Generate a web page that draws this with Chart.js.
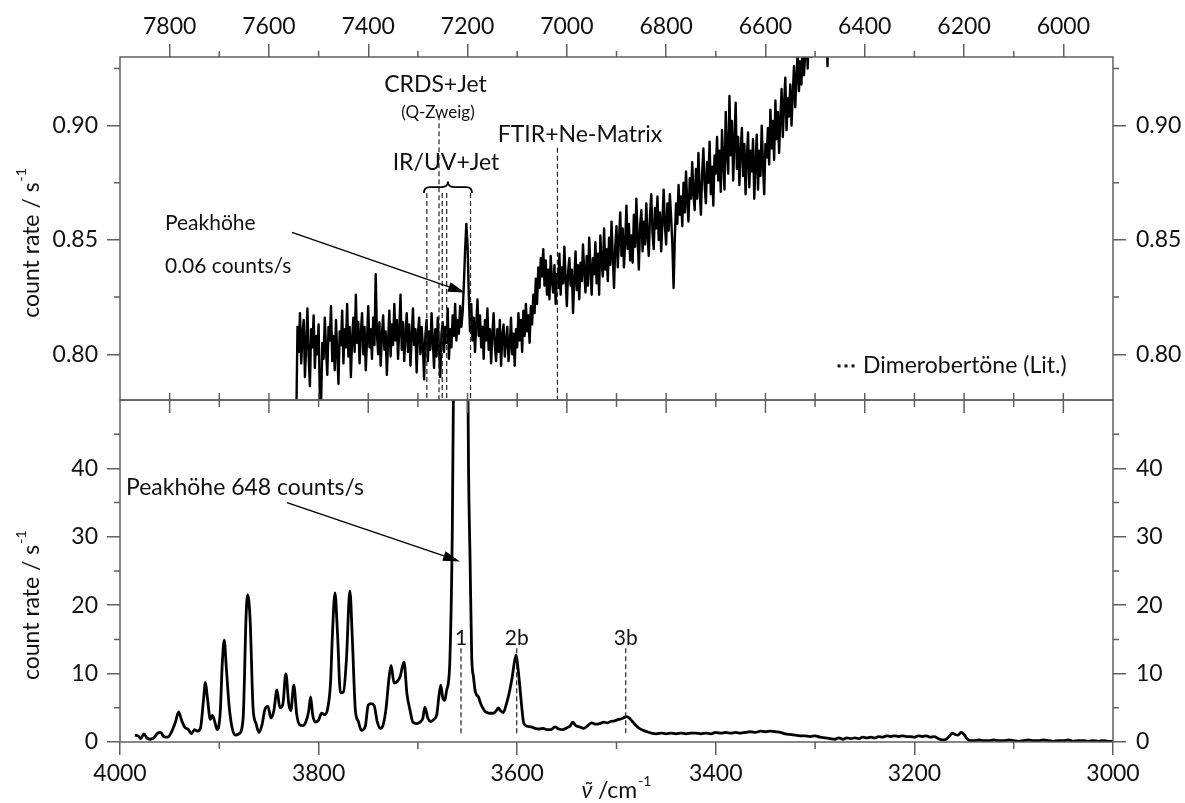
<!DOCTYPE html>
<html>
<head>
<meta charset="utf-8">
<script src="https://cdn.jsdelivr.net/npm/chart.js@4"></script>
<style>
  body { margin: 0; background: #fff; }
  #wrap { position: relative; width: 1185px; height: 803px; }
  canvas { position: absolute; left: 0; }
  #upper { top: 0; }
  #lower { top: 398px; }
</style>
</head>
<body>
<div id="wrap">
  <canvas id="upper" width="1185" height="403"></canvas>
  <canvas id="lower" width="1185" height="405"></canvas>
</div>
<script>
// upper panel: overtone region, one value every 2.5 cm-1 starting at 7545
const upperStart = 7545;
const upperStep = 2.5;
const upperRate = [
  0.770, 0.812, 0.801, 0.818, 0.796, 0.809, 0.815, 0.790, 0.804, 0.820,
  0.799, 0.786, 0.811, 0.803, 0.817, 0.794, 0.808, 0.800, 0.813, 0.781,
  0.778, 0.805, 0.798, 0.816, 0.802, 0.791, 0.812, 0.806, 0.821, 0.797,
  0.808, 0.793, 0.815, 0.801, 0.787, 0.810, 0.804, 0.819, 0.796, 0.811,
  0.803, 0.822, 0.799, 0.812, 0.790, 0.807, 0.816, 0.801, 0.826, 0.805,
  0.814, 0.796, 0.809, 0.818, 0.800, 0.812, 0.793, 0.806, 0.821, 0.803,
  0.811, 0.798, 0.816, 0.804, 0.835, 0.809, 0.800, 0.814, 0.795, 0.808,
  0.817, 0.802, 0.810, 0.791, 0.806, 0.819, 0.799, 0.813, 0.804, 0.822,
  0.806, 0.815, 0.798, 0.811, 0.826, 0.802, 0.814, 0.797, 0.809, 0.818,
  0.801, 0.813, 0.795, 0.807, 0.820, 0.804, 0.811, 0.792, 0.809, 0.816,
  0.800, 0.812, 0.804, 0.789, 0.808, 0.815, 0.797, 0.810, 0.802, 0.818,
  0.806, 0.794, 0.811, 0.799, 0.816, 0.803, 0.790, 0.809, 0.814, 0.801,
  0.812, 0.805, 0.820, 0.798, 0.811, 0.803, 0.817, 0.808, 0.822, 0.806,
  0.815, 0.809, 0.821, 0.812, 0.818, 0.830, 0.845, 0.857, 0.848, 0.826,
  0.810, 0.822, 0.806, 0.816, 0.801, 0.813, 0.824, 0.808, 0.817, 0.803,
  0.812, 0.798, 0.815, 0.806, 0.820, 0.802, 0.811, 0.796, 0.809, 0.818,
  0.804, 0.797, 0.811, 0.801, 0.815, 0.795, 0.808, 0.813, 0.799, 0.806,
  0.812, 0.797, 0.804, 0.816, 0.800, 0.809, 0.795, 0.811, 0.803, 0.818,
  0.806, 0.815, 0.801, 0.819, 0.808, 0.822, 0.810, 0.817, 0.805, 0.821,
  0.813, 0.826, 0.818, 0.833, 0.822, 0.838, 0.829, 0.842, 0.834, 0.846,
  0.830, 0.841, 0.826, 0.837, 0.824, 0.843, 0.832, 0.827, 0.839, 0.822,
  0.835, 0.829, 0.844, 0.826, 0.838, 0.831, 0.847, 0.833, 0.821, 0.836,
  0.842, 0.830, 0.837, 0.818, 0.833, 0.845, 0.828, 0.839, 0.824, 0.840,
  0.832, 0.848, 0.836, 0.827, 0.843, 0.830, 0.851, 0.838, 0.826, 0.842,
  0.835, 0.849, 0.831, 0.844, 0.826, 0.852, 0.840, 0.834, 0.855, 0.837,
  0.846, 0.832, 0.851, 0.839, 0.858, 0.843, 0.829, 0.847, 0.856, 0.838,
  0.850, 0.862, 0.843, 0.855, 0.838, 0.849, 0.865, 0.846, 0.857, 0.841,
  0.852, 0.840, 0.861, 0.847, 0.868, 0.851, 0.837, 0.856, 0.863, 0.845,
  0.858, 0.848, 0.866, 0.852, 0.843, 0.861, 0.870, 0.853, 0.846, 0.864,
  0.855, 0.869, 0.850, 0.862, 0.845, 0.858, 0.872, 0.856, 0.848, 0.866,
  0.854, 0.870, 0.860, 0.848, 0.829, 0.851, 0.866, 0.857, 0.874, 0.861,
  0.869, 0.856, 0.875, 0.862, 0.880, 0.866, 0.858, 0.877, 0.868, 0.884,
  0.870, 0.863, 0.881, 0.868, 0.888, 0.872, 0.861, 0.879, 0.890, 0.874,
  0.866, 0.884, 0.875, 0.893, 0.870, 0.882, 0.865, 0.887, 0.879, 0.895,
  0.876, 0.889, 0.871, 0.898, 0.884, 0.872, 0.906, 0.888, 0.879, 0.913,
  0.887, 0.902, 0.876, 0.893, 0.910, 0.881, 0.895, 0.874, 0.889, 0.899,
  0.878, 0.892, 0.870, 0.886, 0.897, 0.873, 0.889, 0.880, 0.894, 0.868,
  0.884, 0.896, 0.872, 0.889, 0.878, 0.900, 0.883, 0.870, 0.892, 0.886,
  0.899, 0.883, 0.907, 0.890, 0.902, 0.885, 0.911, 0.894, 0.906, 0.888,
  0.903, 0.916, 0.895, 0.909, 0.921, 0.898, 0.912, 0.904, 0.918, 0.900,
  0.914, 0.926, 0.908, 0.921, 0.933, 0.915, 0.928, 0.918, 0.938, 0.922,
  0.931, 0.945, 0.925, 0.940, 0.952, 0.930, 0.947, 0.936, 0.958, 0.941,
  0.950, 0.962, 0.944, 0.957, 0.940, 0.965, 0.953, 0.948, 0.926, 0.955,
  0.960, 0.962
];

// lower panel: fundamental region
const lowerNu = [
  3985, 3982, 3979, 3976, 3973, 3970, 3966, 3962, 3959, 3956,
  3952, 3948, 3944, 3941, 3938, 3935, 3931, 3928, 3925, 3922,
  3919, 3916, 3914, 3912, 3909, 3907, 3905, 3902, 3899, 3897,
  3895, 3893, 3890, 3887, 3884, 3880, 3876, 3873, 3871.5, 3869,
  3866, 3863, 3860, 3857, 3854, 3851, 3848, 3845, 3842, 3839,
  3836, 3833, 3830, 3828, 3825, 3822, 3819, 3816, 3813, 3810,
  3808, 3806, 3803, 3800, 3797, 3794, 3791, 3788, 3786, 3783.5,
  3781, 3778, 3775, 3772, 3768.5, 3766, 3763, 3760, 3757, 3753,
  3750, 3747, 3744, 3741, 3738, 3735, 3732, 3729, 3727, 3724,
  3721, 3718, 3714, 3711, 3708, 3705, 3701, 3698, 3695, 3693,
  3690, 3687, 3684, 3681, 3679, 3677, 3675, 3673, 3671, 3669,
  3667.7, 3665.7, 3664, 3662, 3659.5, 3657, 3654.5, 3652, 3650, 3649,
  3647.5, 3645.8, 3644, 3642.5, 3641, 3639, 3637, 3635.5, 3633, 3630.5,
  3627, 3624, 3621, 3619, 3617, 3614, 3611, 3608, 3605, 3603,
  3601, 3599, 3597, 3595, 3593.5, 3590, 3586, 3582, 3578, 3574,
  3570, 3566, 3562, 3558, 3554, 3550, 3547, 3544, 3541, 3537,
  3533, 3529, 3525, 3521, 3517, 3513, 3509, 3506, 3502, 3498,
  3495, 3492, 3490, 3487, 3484, 3481, 3477, 3473, 3469, 3465,
  3460, 3455, 3450, 3445, 3440, 3435, 3430, 3425, 3420, 3415,
  3410, 3405, 3400, 3395, 3390, 3385, 3380, 3375, 3370, 3365,
  3360, 3355, 3350, 3345, 3340, 3335, 3330, 3325, 3320, 3315,
  3310, 3305, 3300, 3295, 3290, 3285, 3280, 3276, 3272, 3268,
  3264, 3260, 3256, 3252, 3248, 3244, 3240, 3236, 3232, 3228,
  3224, 3220, 3216, 3212, 3208, 3204, 3200, 3196, 3192, 3188,
  3184, 3180, 3176, 3172, 3168, 3165, 3162, 3159, 3156, 3153,
  3150, 3147, 3144, 3140, 3135, 3130, 3125, 3120, 3115, 3110,
  3105, 3100, 3095, 3090, 3085, 3080, 3075, 3070, 3065, 3060,
  3055, 3050, 3045, 3040, 3035, 3030, 3025, 3020, 3015, 3010,
  3005, 3000
];
const lowerRate = [
  1.0, 0.9, 0.5, 1.2, 0.6, 0.4, 0.6, 1.3, 1.4, 0.8,
  0.7, 1.5, 3.0, 4.4, 3.2, 2.2, 1.8, 1.2, 1.8, 1.6,
  2.0, 6.0, 8.7, 6.5, 3.3, 3.9, 3.2, 1.8, 4.5, 11.5,
  14.9, 11.0, 5.1, 2.0, 1.0, 1.2, 3.5, 18.5, 21.5, 18.0,
  5.0, 2.7, 1.4, 2.5, 4.8, 5.2, 3.5, 4.6, 7.6, 5.0,
  5.5, 10.0, 5.5, 4.6, 8.3, 4.0, 2.5, 2.4, 2.9, 4.5,
  6.6, 4.0, 2.9, 3.2, 4.2, 4.0, 4.8, 8.6, 16.0, 21.8,
  16.0, 7.2, 7.3, 12.0, 22.1, 15.0, 4.7, 3.0, 1.7, 2.3,
  5.4, 5.6, 5.3, 3.0, 2.0, 2.5, 5.0, 9.5, 11.2, 8.6,
  8.8, 9.5, 11.7, 7.0, 4.7, 2.9, 2.7, 2.9, 3.5, 5.1,
  3.5, 3.0, 3.3, 4.0, 6.5, 8.3, 6.5, 6.1, 7.6, 9.0,
  12.4, 27, 55, 150, 450, 648, 450, 150, 60, 40,
  27, 12.4, 9.5, 7.6, 6.9, 6.6, 5.7, 5.2, 4.6, 4.3,
  4.2, 4.2, 4.6, 5.0, 4.6, 4.3, 5.5, 7.2, 9.5, 11.5,
  12.7, 10.5, 7.6, 4.5, 2.8, 2.3, 2.2, 2.0, 1.9, 2.0,
  1.8, 1.8, 2.2, 1.9, 1.8, 2.1, 2.3, 2.9, 2.4, 2.2,
  2.0, 2.4, 2.8, 2.6, 2.7, 2.9, 2.8, 3.0, 3.1, 3.3,
  3.4, 3.6, 3.7, 3.5, 3.0, 2.5, 2.0, 1.7, 1.5, 1.3,
  1.2, 1.3, 1.2, 1.3, 1.2, 1.3, 1.2, 1.3, 1.3, 1.2,
  1.3, 1.2, 1.4, 1.3, 1.4, 1.3, 1.4, 1.3, 1.4, 1.5,
  1.4, 1.6, 1.5, 1.6, 1.5, 1.4, 1.2, 1.1, 1.0, 0.9,
  0.9, 0.8, 0.9, 0.7, 0.6, 0.5, 0.4, 0.6, 0.4, 0.6,
  0.5, 0.6, 0.5, 0.7, 0.6, 0.7, 0.6, 0.8, 0.7, 0.9,
  0.8, 0.9, 0.8, 0.9, 0.8, 0.8, 0.7, 0.9, 0.8, 0.9,
  0.7, 0.8, 0.5, 0.3, 0.4, 0.8, 1.3, 1.1, 1.0, 1.4,
  1.1, 0.5, 0.2, 0.2, 0.3, 0.2, 0.2, 0.3, 0.2, 0.2,
  0.3, 0.2, 0.1, 0.2, 0.3, 0.2, 0.2, 0.3, 0.2, 0.1,
  0.2, 0.2, 0.3, 0.1, 0.2, 0.2, 0.1, 0.2, 0.1, 0.2,
  0.1, 0.1
];

// axis ticks
const upperTicks = [7800, 7600, 7400, 7200, 7000, 6800, 6600, 6400, 6200, 6000];
const upperMinor = [7700, 7500, 7300, 7100, 6900, 6700, 6500, 6300, 6100];
const lowerTicks = [4000, 3800, 3600, 3400, 3200, 3000];
const lowerMinor = [3900, 3700, 3500, 3300, 3100];
const upperRateTicks = [0.80, 0.85, 0.90];
const upperRateMinor = [0.825, 0.875, 0.925];
const lowerRateTicks = [0, 10, 20, 30, 40];
const lowerRateMinor = [5, 15, 25, 35, 45];

// literature dimer overtones and band positions (dashed marks)
const irUvJet = [7282, 7251, 7242, 7194];
const crdsJet = 7257.5;
const ftirNe = 7019;
const bandNu = [3656.6, 3600.5, 3490.7];
const bandLabels = ["1", "2b", "3b"];

const family = 'Lato, "DejaVu Sans", sans-serif';
const ink = '#111';
const frameGrey = '#606060';
const tickFont = {family: family, size: 23};
const gridStyle = {drawOnChartArea: false, tickLength: 13, color: frameGrey, lineWidth: 1.5};

function xMarks(ctx, xs, values, y, len) {
  ctx.beginPath();
  values.forEach(v => {
    const px = xs.getPixelForValue(v);
    ctx.moveTo(px, y);
    ctx.lineTo(px, y + len);
  });
  ctx.stroke();
}

function yMarks(ctx, ys, values, x, len) {
  ctx.beginPath();
  values.forEach(v => {
    const py = ys.getPixelForValue(v);
    ctx.moveTo(x, py);
    ctx.lineTo(x + len, py);
  });
  ctx.stroke();
}

function label(ctx, str, x, y, size, align) {
  ctx.font = size + 'px ' + family;
  ctx.fillStyle = ink;
  ctx.textAlign = align || 'center';
  ctx.textBaseline = 'middle';
  ctx.fillText(str, x, y);
}

function arrow(ctx, x1, y1, x2, y2) {
  const ang = Math.atan2(y2 - y1, x2 - x1);
  const len = 17, half = 5;
  ctx.strokeStyle = '#000';
  ctx.lineWidth = 1.4;
  ctx.beginPath();
  ctx.moveTo(x1, y1);
  ctx.lineTo(x2 - len * Math.cos(ang), y2 - len * Math.sin(ang));
  ctx.stroke();
  ctx.fillStyle = '#000';
  ctx.beginPath();
  ctx.moveTo(x2, y2);
  ctx.lineTo(x2 - len * Math.cos(ang) + half * Math.sin(ang), y2 - len * Math.sin(ang) - half * Math.cos(ang));
  ctx.lineTo(x2 - len * Math.cos(ang) - half * Math.sin(ang), y2 - len * Math.sin(ang) + half * Math.cos(ang));
  ctx.closePath();
  ctx.fill();
}

function rateTitle(ctx, baseX, centerY) {
  const main = 'count rate / s', sup = '-1';
  ctx.font = '23px ' + family;
  const w1 = ctx.measureText(main).width;
  ctx.font = '14px ' + family;
  const w2 = ctx.measureText(sup).width;
  ctx.save();
  ctx.translate(baseX, centerY);
  ctx.rotate(-Math.PI / 2);
  ctx.fillStyle = ink;
  ctx.textAlign = 'left';
  ctx.textBaseline = 'alphabetic';
  const start = -(w1 + w2 + 1) / 2;
  ctx.font = '23px ' + family;
  ctx.fillText(main, start, 0);
  ctx.font = '14px ' + family;
  ctx.fillText(sup, start + w1 + 1, -13);
  ctx.restore();
}

function frame(ctx, a) {
  ctx.strokeStyle = frameGrey;
  ctx.lineWidth = 1.5;
  ctx.strokeRect(a.left, a.top, a.right - a.left, a.bottom - a.top);
}

const upperDecor = {
  id: 'upperDecor',
  afterDraw(chart) {
    const ctx = chart.ctx, a = chart.chartArea;
    const xs = chart.scales.x, ys = chart.scales.y;
    const X = v => xs.getPixelForValue(v), Y = v => ys.getPixelForValue(v);
    ctx.save();
    frame(ctx, a);
    xMarks(ctx, xs, upperMinor, a.top, -6);
    xMarks(ctx, xs, upperTicks.concat(upperMinor), a.bottom, -7);
    yMarks(ctx, ys, upperRateMinor, a.left, -6);
    yMarks(ctx, ys, upperRateMinor, a.right, 6);

    // literature positions
    ctx.strokeStyle = '#222';
    ctx.lineWidth = 1.2;
    ctx.setLineDash([5, 3]);
    ctx.beginPath();
    irUvJet.forEach(nu => { ctx.moveTo(X(nu), Y(0.8705)); ctx.lineTo(X(nu), a.bottom); });
    ctx.moveTo(X(crdsJet), Y(0.9045)); ctx.lineTo(X(crdsJet), a.bottom);
    ctx.moveTo(X(ftirNe), Y(0.8903)); ctx.lineTo(X(ftirNe), a.bottom);
    ctx.stroke();
    ctx.setLineDash([]);

    // brace over the IR/UV lines
    const x1 = X(7288), x2 = X(7191), xm = X(7239.5);
    const yEnd = Y(0.8705), yMid = Y(0.8731), yTip = Y(0.8755);
    ctx.strokeStyle = '#000';
    ctx.lineWidth = 1.8;
    ctx.beginPath();
    ctx.moveTo(x1, yEnd);
    ctx.quadraticCurveTo(x1, yMid, x1 + 6, yMid);
    ctx.lineTo(xm - 6, yMid);
    ctx.quadraticCurveTo(xm, yMid, xm, yTip);
    ctx.quadraticCurveTo(xm, yMid, xm + 6, yMid);
    ctx.lineTo(x2 - 6, yMid);
    ctx.quadraticCurveTo(x2, yMid, x2, yEnd);
    ctx.stroke();

    label(ctx, 'CRDS+Jet', X(7264.6), Y(0.918), 23);
    label(ctx, '(Q-Zweig)', X(7259.5), Y(0.9056), 17);
    label(ctx, 'IR/UV+Jet', X(7243.4), Y(0.8837), 23);
    label(ctx, 'FTIR+Ne-Matrix', X(6973.5), Y(0.896), 23);
    label(ctx, 'Peakhöhe', X(7809.4), Y(0.8573), 21, 'left');
    label(ctx, '0.06 counts/s', X(7809.4), Y(0.8384), 21, 'left');
    arrow(ctx, X(7553.6), Y(0.8533), X(7205.1), Y(0.8270));

    // legend for the dashed marks
    ctx.fillStyle = ink;
    [6451.8, 6437.7, 6423.6].forEach(nu => { ctx.fillRect(X(nu) - 1.5, Y(0.7949) - 1.5, 3, 3); });
    label(ctx, 'Dimerobertöne (Lit.)', X(6403.6), Y(0.7949), 23, 'left');

    rateTitle(ctx, 38.5, Y(0.8487));
    ctx.restore();
  }
};

const lowerDecor = {
  id: 'lowerDecor',
  afterDraw(chart) {
    const ctx = chart.ctx, a = chart.chartArea;
    const xs = chart.scales.x, ys = chart.scales.y;
    const X = v => xs.getPixelForValue(v), Y = v => ys.getPixelForValue(v);
    ctx.save();
    frame(ctx, a);
    xMarks(ctx, xs, lowerMinor, a.bottom, 7);
    xMarks(ctx, xs, [3950, 3850, 3750, 3650, 3550, 3450, 3350, 3250, 3150, 3050], a.top, 13);
    xMarks(ctx, xs, [3900, 3800, 3700, 3600, 3500, 3400, 3300, 3200, 3100], a.top, 7);
    yMarks(ctx, ys, lowerRateMinor, a.left, -6);
    yMarks(ctx, ys, lowerRateMinor, a.right, 6);

    ctx.strokeStyle = '#222';
    ctx.lineWidth = 1.2;
    ctx.setLineDash([5, 3]);
    ctx.beginPath();
    bandNu.forEach(nu => { ctx.moveTo(X(nu), Y(13.7)); ctx.lineTo(X(nu), Y(0.9)); });
    ctx.stroke();
    ctx.setLineDash([]);
    bandNu.forEach((nu, i) => label(ctx, bandLabels[i], X(nu), Y(15.2), 21));

    label(ctx, 'Peakhöhe 648 counts/s', X(3994), Y(37.2), 23, 'left');
    arrow(ctx, X(3831.8), Y(35.0), X(3657.6), Y(26.4));

    rateTitle(ctx, 38.5, Y(20.0));

    // x axis title: nu-tilde / cm^-1
    const base = a.bottom + 56;
    const p1 = 'ν\u0303 ', p2 = '/cm', p3 = '-1';
    ctx.font = 'italic 23px ' + family;
    const w1 = ctx.measureText(p1).width;
    ctx.font = '23px ' + family;
    const w2 = ctx.measureText(p2).width;
    ctx.font = '14px ' + family;
    const w3 = ctx.measureText(p3).width;
    let x = (a.left + a.right) / 2 - (w1 + w2 + w3 + 1) / 2;
    ctx.fillStyle = ink;
    ctx.textAlign = 'left';
    ctx.textBaseline = 'alphabetic';
    ctx.font = 'italic 23px ' + family;
    ctx.fillText(p1, x, base);
    ctx.font = '23px ' + family;
    ctx.fillText(p2, x + w1, base);
    ctx.font = '14px ' + family;
    ctx.fillText(p3, x + w1 + w2 + 1, base - 12);
    ctx.restore();
  }
};

function yAxis(pos, min, max, ticks, width, pad, fmt) {
  return {
    type: 'linear', position: pos, min: min, max: max,
    afterBuildTicks: s => { s.ticks = ticks.map(v => ({value: v})); },
    afterFit: s => { s.width = width; s.paddingTop = 0; s.paddingBottom = 0; },
    grid: gridStyle,
    border: {display: false},
    ticks: {font: tickFont, color: ink, padding: pad, callback: fmt}
  };
}

new Chart(document.getElementById('upper'), {
  type: 'line',
  data: {
    datasets: [{
      data: upperRate.map((r, i) => ({x: upperStart - i * upperStep, y: r})),
      borderColor: '#000',
      borderWidth: 2.4,
      borderJoinStyle: 'round',
      pointRadius: 0,
      tension: 0,
      clip: 0
    }]
  },
  options: {
    responsive: false,
    animation: false,
    devicePixelRatio: 1,
    layout: {padding: {left: 0, right: 0, top: 0, bottom: 3}},
    plugins: {legend: {display: false}, tooltip: {enabled: false}},
    scales: {
      x: {
        type: 'linear', position: 'top', reverse: true, min: 5900, max: 7900,
        afterBuildTicks: s => { s.ticks = upperTicks.map(v => ({value: v})); },
        afterFit: s => { s.height = 57; s.paddingLeft = 0; s.paddingRight = 0; },
        grid: gridStyle,
        border: {display: false},
        ticks: {font: tickFont, color: ink, padding: 4, maxRotation: 0, autoSkip: false, callback: v => String(v)}
      },
      y: yAxis('left', 0.78, 0.93, upperRateTicks, 120, 9, v => v.toFixed(2)),
      yRight: yAxis('right', 0.78, 0.93, upperRateTicks, 72, 10, v => v.toFixed(2))
    }
  },
  plugins: [upperDecor]
});

new Chart(document.getElementById('lower'), {
  type: 'line',
  data: {
    datasets: [{
      data: lowerNu.map((nu, i) => ({x: nu, y: lowerRate[i]})),
      borderColor: '#000',
      borderWidth: 2.8,
      pointRadius: 0,
      cubicInterpolationMode: 'monotone',
      clip: 0
    }]
  },
  options: {
    responsive: false,
    animation: false,
    devicePixelRatio: 1,
    layout: {padding: {left: 0, right: 0, top: 2, bottom: 0}},
    plugins: {legend: {display: false}, tooltip: {enabled: false}},
    scales: {
      x: {
        type: 'linear', position: 'bottom', reverse: true, min: 3000, max: 4000,
        afterBuildTicks: s => { s.ticks = lowerTicks.map(v => ({value: v})); },
        afterFit: s => { s.height = 61; s.paddingLeft = 0; s.paddingRight = 0; },
        grid: gridStyle,
        border: {display: false},
        ticks: {font: tickFont, color: ink, padding: 5, maxRotation: 0, autoSkip: false, callback: v => String(v)}
      },
      y: yAxis('left', 0, 50, lowerRateTicks, 120, 9, v => String(v)),
      yRight: yAxis('right', 0, 50, lowerRateTicks, 72, 10, v => String(v))
    }
  },
  plugins: [lowerDecor]
});
</script>
</body>
</html>
